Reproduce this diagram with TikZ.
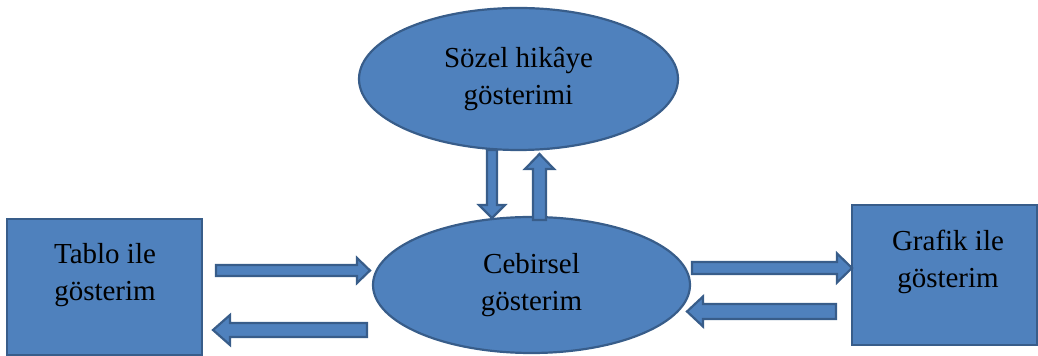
\documentclass[tikz,border=0pt]{standalone}
\usepackage{fontspec}
\setmainfont{Liberation Serif}
\usetikzlibrary{shapes.geometric}
\definecolor{boxfill}{HTML}{4F81BD}
\definecolor{boxline}{HTML}{385D8A}
\newcommand{\barrow}[6]{%
  \draw[arrowbox, shift={(#1)}, rotate=#2]
    (0,-#4) -- ({#3-#6},-#4) -- ({#3-#6},-#5) -- (#3,0) --
    ({#3-#6},#5) -- ({#3-#6},#4) -- (0,#4) -- cycle;}
\begin{document}
\begin{tikzpicture}[x=0.5pt,y=-0.5pt,
  shapebox/.style={fill=boxfill, draw=boxline, line width=1.1pt, inner sep=0pt},
  ellbox/.style={shapebox, ellipse, align=center, font=\fontsize{14.5}{18.5}\selectfont},
  rectbox/.style={shapebox, rectangle},
  lbl/.style={align=center, inner sep=0pt, font=\fontsize{14.5}{18.5}\selectfont},
  arrowbox/.style={fill=boxfill, draw=boxline, line width=1.1pt, line join=miter}]
\useasboundingbox (0,0) rectangle (1038,356);
\node[ellbox, minimum width=159.5pt, minimum height=71pt] (sozel) at (518.5,79) {Sözel hikâye\\gösterimi};
\node[ellbox, minimum width=158.5pt, minimum height=68pt] (cebir) at (531.5,285) {Cebirsel\\gösterim};
\node[rectbox, minimum width=97.5pt, minimum height=68pt] (tablo) at (104.5,287) {};
\node[lbl] (tabloT) at (105,275) {Tablo ile\\gösterim};
\node[rectbox, minimum width=92.5pt, minimum height=70pt] (grafik) at (944.5,275) {};
\node[lbl] (grafikT) at (948,262) {Grafik ile\\gösterim};
% arrow tails
\coordinate (a1) at (492,150);
\coordinate (a2) at (539.5,220);
\coordinate (a3) at (216,270.5);
\coordinate (a4) at (367,330);
\coordinate (a5) at (692,268);
\coordinate (a6) at (836,311.5);
\barrow{a1}{-90}{68}{5}{13}{13}
\barrow{a2}{90}{66}{6.5}{14.5}{15}
\barrow{a3}{0}{154}{5.5}{12.5}{13}
\barrow{a4}{180}{154}{7}{15}{17}
\barrow{a5}{0}{160}{6}{14.5}{15}
\barrow{a6}{180}{149}{7.5}{15}{16}
\end{tikzpicture}
\end{document}
